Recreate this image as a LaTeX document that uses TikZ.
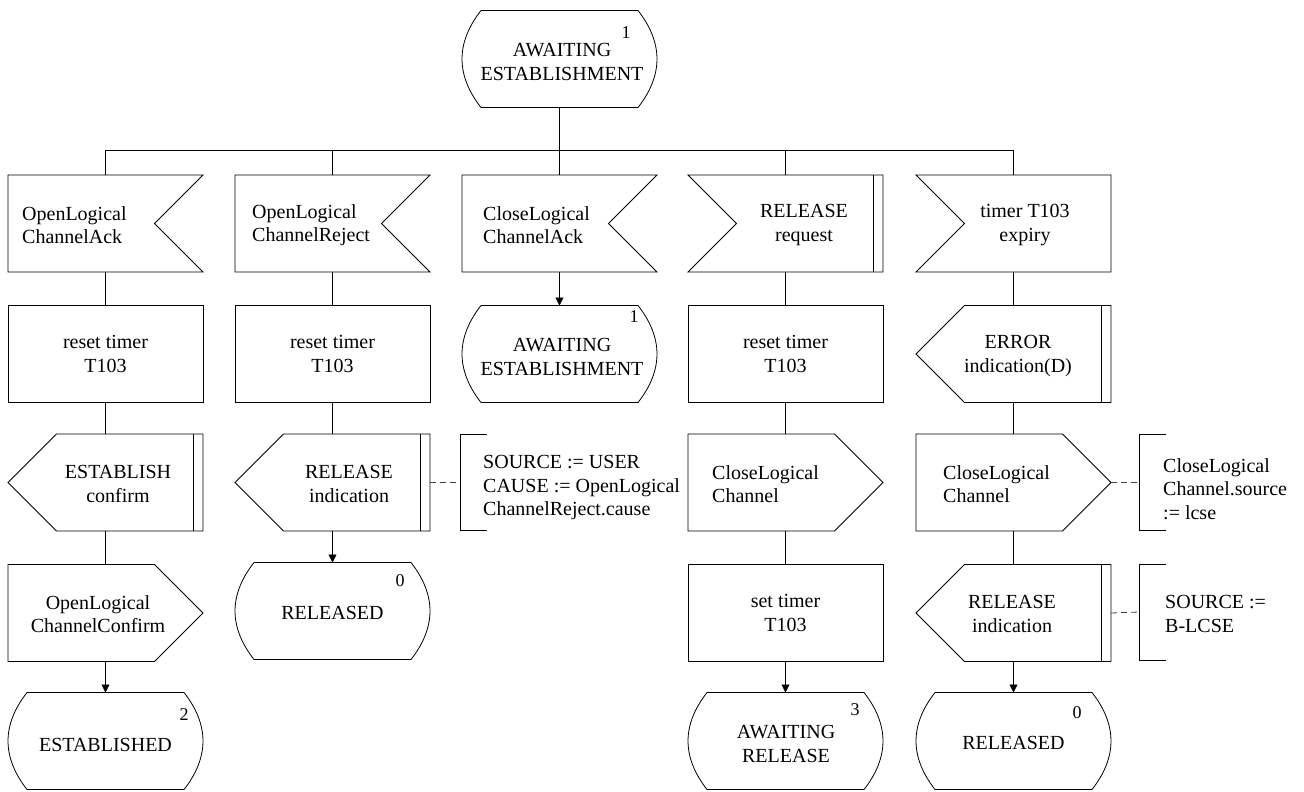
\documentclass[tikz,border=0pt]{standalone}
\usepackage{fontspec}
\setmainfont{Liberation Serif}
\usetikzlibrary{arrows.meta}

\tikzset{
  outl/.style={line width=0.8pt, line join=miter},
  sym/.style={minimum width=195pt, minimum height=97pt, inner sep=0pt, outer sep=0pt},
  task/.style={sym, draw, outl, align=center, font=\fontsize{20}{23.5}\selectfont},
  txt/.style={inner sep=0pt, align=center, font=\fontsize{20}{23.5}\selectfont},
  ltxt/.style={txt, align=left, anchor=west},
  num/.style={inner sep=0pt, font=\fontsize{18}{18}\selectfont},
  note/.style={minimum width=27pt, minimum height=96pt, inner sep=0pt, outer sep=0pt, anchor=west},
  flow/.style={line width=0.8pt},
  arr/.style={flow, -{Triangle[length=8pt,width=8pt]}},
  assoc/.style={line width=0.8pt, dash pattern=on 6pt off 4pt, draw=black!75},
}

% SDL symbol outlines drawn around a named rectangular node
\newcommand\sdlInR[1]{\draw[outl] (#1.north west) -- (#1.north east) -- ([xshift=-48.5pt]#1.east) -- (#1.south east) -- (#1.south west) -- cycle;}
\newcommand\sdlInL[1]{\draw[outl] (#1.north west) -- (#1.north east) -- (#1.south east) -- (#1.south west) -- ([xshift=48.5pt]#1.west) -- cycle;}
\newcommand\sdlOutL[1]{\draw[outl] ([xshift=48.5pt]#1.north west) -- (#1.north east) -- (#1.south east) -- ([xshift=48.5pt]#1.south west) -- (#1.west) -- cycle;}
\newcommand\sdlOutR[1]{\draw[outl] (#1.north west) -- ([xshift=-48.5pt]#1.north east) -- (#1.east) -- ([xshift=-48.5pt]#1.south east) -- (#1.south west) -- cycle;}
\newcommand\sdlBar[1]{\draw[outl] ([xshift=-10pt]#1.north east) -- ([xshift=-10pt]#1.south east);}
\newcommand\sdlState[1]{\draw[outl] ([xshift=19pt]#1.north west) -- ([xshift=-19pt]#1.north east)
  .. controls ([xshift=6.3pt,yshift=-32.3pt]#1.north east) and ([xshift=6.3pt,yshift=32.3pt]#1.south east) .. ([xshift=-19pt]#1.south east)
  -- ([xshift=19pt]#1.south west)
  .. controls ([xshift=-6.3pt,yshift=32.3pt]#1.south west) and ([xshift=-6.3pt,yshift=-32.3pt]#1.north west) .. cycle;}
\newcommand\sdlNote[1]{\draw[outl] (#1.north east) -- (#1.north west) -- (#1.south west) -- (#1.south east);}

\begin{document}
\begin{tikzpicture}[x=1pt, y=-1pt]
\useasboundingbox (0,0) rectangle (1304,792);

% start state
\node[sym] (s0) at (559.5,59) {};
\sdlState{s0}
\node[txt] (s0t) at (562,62) {AWAITING\\ESTABLISHMENT};
\node[num] (s0n) at (626,33) {1};
\coordinate (bar) at (559.5,150);

% column 1
\node[sym] (c1r1) at (105.5,223.5) {};
\sdlInR{c1r1}
\node[ltxt] (c1r1t) at (22,225) {OpenLogical\\ChannelAck};
\node[task] (c1r2) at (105.5,354) {reset timer\\T103};
\node[sym] (c1r3) at (105.5,482.5) {};
\sdlOutL{c1r3}\sdlBar{c1r3}
\node[txt] (c1r3t) at (118,484) {ESTABLISH\\confirm};
\node[sym] (c1r4) at (105.5,613) {};
\sdlOutR{c1r4}
\node[txt] (c1r4t) at (98,614) {OpenLogical\\ChannelConfirm};
\node[sym] (c1r5) at (105.5,741) {};
\sdlState{c1r5}
\node[txt] (c1r5t) at (105.5,745) {ESTABLISHED};
\node[num] (c1r5n) at (184,715) {2};

% column 2
\node[sym] (c2r1) at (332.5,223.5) {};
\sdlInR{c2r1}
\node[ltxt] (c2r1t) at (252,225) {OpenLogical\\ChannelReject};
\node[task] (c2r2) at (332.5,354) {reset timer\\T103};
\node[sym] (c2r3) at (332.5,482.5) {};
\sdlOutL{c2r3}\sdlBar{c2r3}
\node[txt] (c2r3t) at (349,484) {RELEASE\\indication};
\node[note] (n1) at (460,482.5) {};
\sdlNote{n1}
\node[ltxt] (n1t) at (483,488) {SOURCE := USER\\CAUSE := OpenLogical\\ChannelReject.cause};
\node[sym] (c2r4) at (332.5,611) {};
\sdlState{c2r4}
\node[txt] (c2r4t) at (332.5,613) {RELEASED};
\node[num] (c2r4n) at (400,581) {0};

% column 3
\node[sym] (c3r1) at (559.5,223.5) {};
\sdlInR{c3r1}
\node[ltxt] (c3r1t) at (483,225) {CloseLogical\\ChannelAck};
\node[sym] (c3r2) at (559.5,354) {};
\sdlState{c3r2}
\node[txt] (c3r2t) at (562,357) {AWAITING\\ESTABLISHMENT};
\node[num] (c3r2n) at (634,317) {1};

% column 4
\node[sym] (c4r1) at (785.5,223.5) {};
\sdlInL{c4r1}\sdlBar{c4r1}
\node[txt] (c4r1t) at (804,225) {RELEASE\\request};
\node[task] (c4r2) at (785.5,354) {reset timer\\T103};
\node[sym] (c4r3) at (785.5,482.5) {};
\sdlOutR{c4r3}
\node[ltxt] (c4r3t) at (712,484) {CloseLogical\\Channel};
\node[task] (c4r4) at (785.5,613) {set timer\\T103};
\node[sym] (c4r5) at (785.5,741) {};
\sdlState{c4r5}
\node[txt] (c4r5t) at (786,744) {AWAITING\\RELEASE};
\node[num] (c4r5n) at (855,710) {3};

% column 5
\node[sym] (c5r1) at (1013.5,223.5) {};
\sdlInL{c5r1}
\node[txt] (c5r1t) at (1025,225) {timer T103\\expiry};
\node[sym] (c5r2) at (1013.5,354) {};
\sdlOutL{c5r2}\sdlBar{c5r2}
\node[txt] (c5r2t) at (1018,356) {ERROR\\indication(D)};
\node[sym] (c5r3) at (1013.5,482.5) {};
\sdlOutR{c5r3}
\node[ltxt] (c5r3t) at (943,484) {CloseLogical\\Channel};
\node[note] (n2) at (1139,482.5) {};
\sdlNote{n2}
\node[ltxt] (n2t) at (1163,489) {CloseLogical\\Channel.source\\:= lcse};
\node[sym] (c5r4) at (1013.5,613) {};
\sdlOutL{c5r4}\sdlBar{c5r4}
\node[txt] (c5r4t) at (1012,614) {RELEASE\\indication};
\node[note] (n3) at (1139,612) {};
\sdlNote{n3}
\node[ltxt] (n3t) at (1165,614) {SOURCE :=\\B-LCSE};
\node[sym] (c5r5) at (1013.5,741) {};
\sdlState{c5r5}
\node[txt] (c5r5t) at (1013.5,743) {RELEASED};
\node[num] (c5r5n) at (1077,713) {0};

% branching from the start state
\draw[flow] (s0.south) -- (bar);
\draw[flow] (c1r1.north) -- (c1r1.north |- bar) -- (c5r1.north |- bar) -- (c5r1.north);
\draw[flow] (c2r1.north) -- (c2r1.north |- bar);
\draw[flow] (c3r1.north) -- (c3r1.north |- bar);
\draw[flow] (c4r1.north) -- (c4r1.north |- bar);

% flow lines
\draw[flow] (c1r1) -- (c1r2);
\draw[flow] (c1r2) -- (c1r3);
\draw[flow] (c1r3) -- (c1r4);
\draw[arr] (c1r4.south) -- (c1r5.north);

\draw[flow] (c2r1) -- (c2r2);
\draw[flow] (c2r2) -- (c2r3);
\draw[arr] (c2r3.south) -- (c2r4.north);

\draw[arr] (c3r1.south) -- (c3r2.north);

\draw[flow] (c4r1) -- (c4r2);
\draw[flow] (c4r2) -- (c4r3);
\draw[flow] (c4r3) -- (c4r4);
\draw[arr] (c4r4.south) -- (c4r5.north);

\draw[flow] (c5r1) -- (c5r2);
\draw[flow] (c5r2) -- (c5r3);
\draw[flow] (c5r3) -- (c5r4);
\draw[arr] (c5r4.south) -- (c5r5.north);

% comment associations
\draw[assoc] (c2r3.east) -- (n1.west);
\draw[assoc] (c5r3.east) -- (n2.west);
\draw[assoc] (c5r4.east) -- (n3.west);
\end{tikzpicture}
\end{document}
